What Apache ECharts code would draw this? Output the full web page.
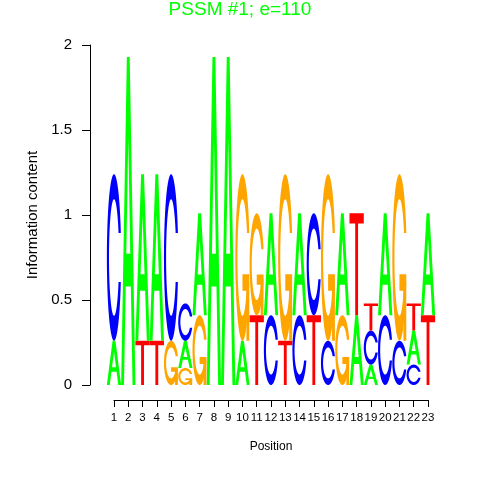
<!DOCTYPE html>
<html><head><meta charset="utf-8">
<script src="https://cdn.jsdelivr.net/npm/echarts@6/dist/echarts.min.js"></script>
<style>html,body{margin:0;padding:0;background:#fff}#c{width:480px;height:480px}</style>
</head><body><div id="c"></div>
<script>
// ---- data ----
const positions = [1,2,3,4,5,6,7,8,9,10,11,12,13,14,15,16,17,18,19,20,21,22,23];
// letters of each column, bottom to top
const stackLetters = ["AC","A","TA","TA","GC","GAC","GA","A","A","AG","TG","CA","TG","CA","TC","CG","GA","AT","ACT","CA","CG","CAT","TA"];
// heights (bits) of those letters, bottom to top
const stackHeights = [
  [0.26,0.98],[1.93],[0.26,0.98],[0.26,0.98],[0.26,0.98],
  [0.10,0.16,0.22],[0.41,0.60],[1.93],[1.93],[0.26,0.98],
  [0.41,0.60],[0.41,0.60],[0.26,0.98],[0.41,0.60],[0.41,0.60],
  [0.26,0.98],[0.41,0.60],[0.41,0.60],[0.12,0.20,0.16],[0.41,0.60],
  [0.26,0.98],[0.12,0.20,0.16],[0.41,0.60]
];
const yTicks = [0,0.5,1,1.5,2];
const titleText = 'PSSM #1; e=110';
const letterColors = {A:'#00ff00', C:'#0000ff', G:'#ffa500', T:'#ff0000'};
const FONT = '"Liberation Sans", Arial, Helvetica, sans-serif';

// ---- glyph outlines in a unit box (x right, y up) ----
function buildC(){
  const n = 60, a1 = [], a2 = [];
  for (let i = 0; i < n; i++) {
    a1.push(0.3 + Math.PI/2 + (Math.PI/2 - 0.3) * i/(n-1));
    a2.push(Math.PI + 0.5*Math.PI * i/(n-1));
  }
  const aa = a1.concat(a2);
  const xl = aa.map(a => 0.5 + 0.5*Math.sin(a));
  const yl = aa.map(a => 0.5 + 0.5*Math.cos(a));
  const maxY1 = Math.max(...a1.map(a => 0.5 + 0.5*Math.cos(a)));
  const r1 = Math.max(...a1.map(a => 0.5 + 0.5*Math.sin(a)));
  const ox = xl.concat(xl.slice().reverse());
  const oy = yl.concat(yl.slice().reverse().map(v => 1 - v));
  let xi1 = a1.map(a => 0.5 + 0.35*Math.sin(a));
  let yi1 = a1.map(a => 0.5 + 0.35*Math.cos(a));
  const keep = yi1.map(v => v <= maxY1);
  xi1 = xi1.filter((v,i) => keep[i]); yi1 = yi1.filter((v,i) => keep[i]);
  yi1[0] = maxY1;
  const xi2 = a2.map(a => 0.5 + 0.35*Math.sin(a));
  const yi2 = a2.map(a => 0.5 + 0.35*Math.cos(a));
  const xi = xi1.concat(xi2), yi = yi1.concat(yi2);
  const ix = xi.concat(xi.slice().reverse());
  const iy = yi.concat(yi.slice().reverse().map(v => 1 - v));
  const px = ox.concat(ix.slice().reverse());
  const py = oy.concat(iy.slice().reverse());
  return {pts: px.map((x,i) => [x, py[i]]), r1: r1};
}
const cShape = buildC();
const glyphs = {
  A: [
    {pts: [[0,0],[0.4,1],[0.6,1],[1,0],[0.8,0],[0.68,0.3],[0.32,0.3],[0.2,0]], hole: false},
    {pts: [[0.36,0.4],[0.5,0.75],[0.64,0.4]], hole: true}
  ],
  C: [{pts: cShape.pts, hole: false}],
  G: [
    {pts: cShape.pts, hole: false},
    {pts: [[cShape.r1,0.4],[0.5,0.4],[0.5,0.3],[cShape.r1-0.2,0.3],[cShape.r1-0.2,0],[cShape.r1,0]], hole: false}
  ],
  T: [{pts: [[0,1],[1,1],[1,0.9],[0.6,0.9],[0.6,0],[0.4,0],[0.4,0.9],[0,0.9]], hole: false}]
};
const letterKeys = ['A','C','G','T'];

// ---- series data: [position, base, height, letterIndex] ----
const logoData = [];
positions.forEach((p, i) => {
  let base = 0;
  stackLetters[i].split('').forEach((L, j) => {
    const h = stackHeights[i][j];
    logoData.push([p, base, h, letterKeys.indexOf(L)]);
    base += h;
  });
});

function renderItem(params, api) {
  const pos = api.value(0), base = api.value(1), h = api.value(2);
  const L = letterKeys[api.value(3)];
  const p0 = api.coord([pos - 0.5, base]);
  const p1 = api.coord([pos + 0.5, base + h]);
  const w = p1[0] - p0[0], hh = p0[1] - p1[1];
  return {
    type: 'group',
    children: glyphs[L].map(part => ({
      type: 'polygon',
      silent: true,
      shape: {points: part.pts.map(q => [p0[0] + q[0]*w, p0[1] - q[1]*hh])},
      style: {fill: part.hole ? '#ffffff' : letterColors[L], stroke: null}
    }))
  };
}

const chart = echarts.init(document.getElementById('c'), null, {renderer: 'canvas'});
chart.setOption({
  animation: false,
  backgroundColor: '#ffffff',
  title: {
    text: titleText, left: 'center', top: 0, padding: 0,
    textStyle: {color: '#00ff00', fontSize: 19, fontWeight: 'normal', fontFamily: FONT}
  },
  grid: {left: 114, right: 52, top: 45, bottom: 95, containLabel: false, outerBoundsMode: 'none'},
  xAxis: {
    type: 'value', min: positions[0], max: positions[positions.length-1], interval: 1, offset: 15,
    axisLine: {show: true, onZero: false, lineStyle: {color: '#000', width: 1}},
    axisTick: {show: true, length: 7, lineStyle: {color: '#000', width: 1}},
    axisLabel: {show: true, fontSize: 11.5, color: '#000', margin: 12, fontFamily: FONT, hideOverlap: false},
    splitLine: {show: false},
    name: 'Position', nameLocation: 'middle', nameGap: 41,
    nameTextStyle: {fontSize: 12, color: '#000', fontFamily: FONT}
  },
  yAxis: {
    type: 'value', min: yTicks[0], max: yTicks[yTicks.length-1], interval: 0.5, offset: 24,
    axisLine: {show: true, onZero: false, lineStyle: {color: '#000', width: 1}},
    axisTick: {show: true, length: 8, lineStyle: {color: '#000', width: 1}},
    axisLabel: {show: true, fontSize: 15, color: '#000', margin: 18, fontFamily: FONT},
    splitLine: {show: false},
    name: 'Information content', nameLocation: 'middle', nameGap: 47,
    nameTextStyle: {fontSize: 15, color: '#000', fontFamily: FONT}
  },
  series: [{
    type: 'custom', clip: false, renderItem: renderItem, data: logoData,
    encode: {x: 0, y: [1, 2]}
  }]
});
</script></body></html>
